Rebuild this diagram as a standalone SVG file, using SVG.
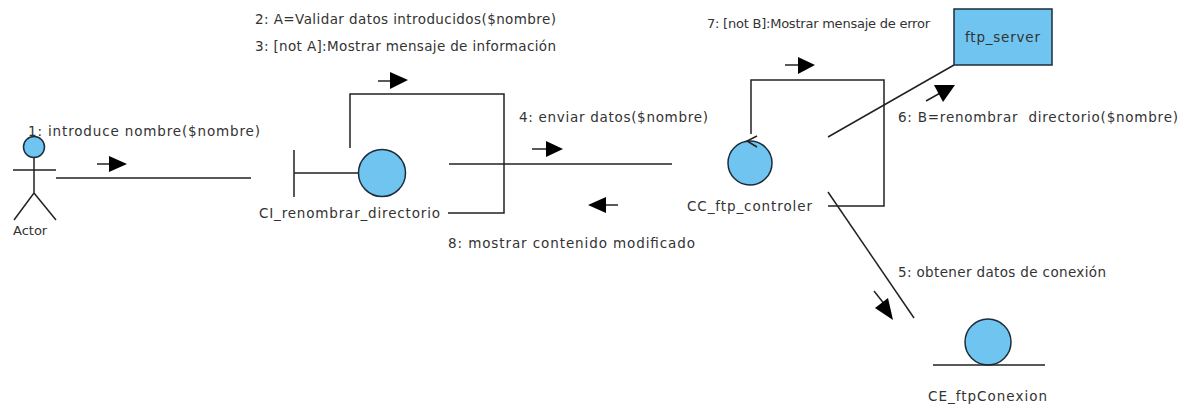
<svg xmlns="http://www.w3.org/2000/svg" width="1189" height="407" viewBox="0 0 1189 407">
<style>
text{font-family:"DejaVu Sans",sans-serif;font-size:13.5px;fill:#333;white-space:pre}
text.s{font-size:13px}
.l{fill:none;stroke:#222;stroke-width:1.5}
.n{fill:#70c5f0;stroke:#1c2c3c;stroke-width:1.5}
.h{fill:#000;stroke:none}
</style>
<rect width="1189" height="407" fill="#fff"/>
<g id="connectors">
<path class="l" d="M56 178H251"/>
<path class="l" d="M350 148V94H504V213H448"/>
<path class="l" d="M449 164H672"/>
<path class="l" d="M751 134V80H884V206H828"/>
<path class="l" d="M828 137L954 65"/>
<path class="l" d="M828 192L914 318"/>
<path class="l" d="M97 164H112"/><polygon class="h" points="109,156 127,164 109,172"/>
<path class="l" d="M378 81H392"/><polygon class="h" points="390,72 408,80 390,89"/>
<path class="l" d="M532 149H548"/><polygon class="h" points="546,141 563,149 546,157"/>
<path class="l" d="M618 205H604"/><polygon class="h" points="606,197 588,205 606,213"/>
<path class="l" d="M785 65H800"/><polygon class="h" points="798,57 815,65 798,74"/>
<path class="l" d="M926 101L942 92"/><polygon class="h" points="934,85 955,85 943,102"/>
<path class="l" d="M874 291L889 310"/><polygon class="h" points="875,308 888,298 893,320"/>
</g>
<g id="actor">
<circle class="n" cx="34" cy="147" r="10.5"/>
<path class="l" d="M13 170H56M34 158V193L14 220M34 193L56 220"/>
<text class="s" x="13" y="235">Actor</text>
</g>
<g id="CI_renombrar_directorio">
<path class="l" d="M294 150V197M294 173H359"/>
<circle class="n" cx="382" cy="173" r="23.5"/>
<text x="259" y="218" textLength="181">CI_renombrar_directorio</text>
</g>
<g id="CC_ftp_controler">
<circle class="n" cx="750" cy="163" r="22"/>
<path class="l" d="M757 136L747 141L757 147"/>
<text x="687" y="211" textLength="125">CC_ftp_controler</text>
</g>
<g id="ftp_server">
<rect class="n" x="954" y="9" width="98" height="56"/>
<text x="965" y="42" textLength="75">ftp_server</text>
</g>
<g id="CE_ftpConexion">
<circle class="n" cx="988" cy="342" r="23"/>
<path class="l" d="M933 365H1045"/>
<text x="928" y="401" textLength="119">CE_ftpConexion</text>
</g>
<g id="labels">
<text x="28" y="136" textLength="232">1: introduce nombre($nombre)</text>
<text x="255" y="24" textLength="301">2: A=Validar datos introducidos($nombre)</text>
<text x="255" y="51" textLength="301">3: [not A]:Mostrar mensaje de información</text>
<text x="519" y="122" textLength="189">4: enviar datos($nombre)</text>
<text x="898" y="277" textLength="208">5: obtener datos de conexión</text>
<text x="898" y="122" textLength="280">6: B=renombrar  directorio($nombre)</text>
<text class="s" x="707" y="28" textLength="223">7: [not B]:Mostrar mensaje de error</text>
<text x="448" y="248" textLength="247">8: mostrar contenido modificado</text>
</g>
</svg>
